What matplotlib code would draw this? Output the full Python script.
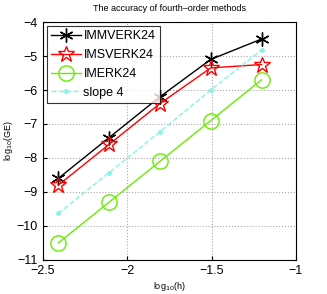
import numpy as np
import matplotlib
matplotlib.use('Agg')
from matplotlib import pyplot as plt

plt.rcParams['font.family'] = ['Liberation Sans', 'DejaVu Sans']

logh = [-2.408, -2.107, -1.806, -1.505, -1.204]
immverk = [-8.6, -7.4, -6.2, -5.1, -4.5]
imsverk = [-8.8, -7.6, -6.4, -5.35, -5.25]
imerk = [-10.5, -9.3, -8.1, -6.9, -5.7]
slope4 = [-9.63, -8.43, -7.23, -6.0, -4.82]

fig = plt.figure(figsize=(3.27, 2.94), dpi=100)
ax = fig.add_axes([0.131, 0.116, 0.774, 0.809])

ax.plot(logh, immverk, '-', color='black', marker=(6, 2, 0), ms=10, mew=1, lw=1, label='IMMVERK24')
ax.plot(logh, imsverk, '-', color='red', marker='*', ms=12, mfc='none', mew=1, lw=1, label='IMSVERK24')
ax.plot(logh, imerk, '-', color='#66ee00', marker='o', ms=11, mfc='none', mew=1, lw=1, label='IMERK24')
ax.plot(logh, slope4, '--', color='#88f4e4', marker='.', ms=5, lw=1, label='slope 4')

ax.set_xlim(-2.5, -1)
ax.set_ylim(-11, -4)
ax.set_xticks([-2.5, -2, -1.5, -1])
ax.set_xticklabels(['\u22122.5', '\u22122', '\u22121.5', '\u22121'])
ax.set_yticks(range(-11, -3))
ax.set_yticklabels(['\u2212%d' % v for v in range(11, 3, -1)])
ax.tick_params(labelsize=9, direction='in', length=3)
ax.grid(True, linestyle=':', color='#aaaaaa', lw=0.8)
ax.set_xlabel('log$_{10}$(h)', fontsize=6.5, labelpad=2)
ax.set_ylabel('log$_{10}$(GE)', fontsize=6.5, labelpad=1)
ax.set_title('The accuracy of fourth\u2013order methods', fontsize=6.5, pad=8)

leg = ax.legend(loc='upper left', fontsize=9, handlelength=2.4, borderpad=0.35,
                labelspacing=0.55, handletextpad=0.2, borderaxespad=0.3, fancybox=False)
leg.get_frame().set_edgecolor('black')
leg.get_frame().set_linewidth(0.8)

plt.savefig('out.png', dpi=100)
